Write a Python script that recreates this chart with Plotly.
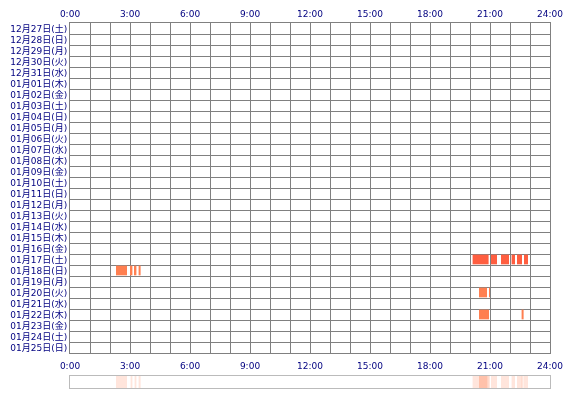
import plotly.graph_objects as go

days = [
    "12月27日(土)", "12月28日(日)", "12月29日(月)", "12月30日(火)", "12月31日(水)",
    "01月01日(木)", "01月02日(金)", "01月03日(土)", "01月04日(日)", "01月05日(月)",
    "01月06日(火)", "01月07日(水)", "01月08日(木)", "01月09日(金)", "01月10日(土)",
    "01月11日(日)", "01月12日(月)", "01月13日(火)", "01月14日(水)", "01月15日(木)",
    "01月16日(金)", "01月17日(土)", "01月18日(日)", "01月19日(月)", "01月20日(火)",
    "01月21日(水)", "01月22日(木)", "01月23日(金)", "01月24日(土)", "01月25日(日)",
]

# active periods (hours of the day)
seg_day = [
    "01月17日(土)", "01月17日(土)", "01月17日(土)", "01月17日(土)", "01月17日(土)", "01月17日(土)",
    "01月18日(日)", "01月18日(日)", "01月18日(日)", "01月18日(日)",
    "01月20日(火)", "01月20日(火)",
    "01月22日(木)", "01月22日(木)",
]
seg_start = [20.13, 21.05, 21.55, 22.08, 22.35, 22.7,
             2.3, 3.03, 3.23, 3.43,
             20.45, 20.95,
             20.45, 22.58]
seg_end = [20.93, 21.35, 21.95, 22.25, 22.6, 22.9,
           2.85, 3.12, 3.32, 3.53,
           20.85, 21.0,
           20.95, 22.68]

hour_vals = [0, 3, 6, 9, 12, 15, 18, 21, 24]
hour_text = ["0:00", "3:00", "6:00", "9:00", "12:00", "15:00", "18:00", "21:00", "24:00"]

day_color = {"01月17日(土)": "#FF5E40"}
durations = [e - s for s, e in zip(seg_start, seg_end)]
colors = [day_color.get(d, "#FF7F50") for d in seg_day]

fig = go.Figure()

fig.add_bar(
    y=seg_day, x=durations, base=seg_start, orientation="h",
    width=0.88, marker=dict(color=colors, line_width=0),
    xaxis="x", yaxis="y", showlegend=False,
)

# invisible trace so the bottom hour axis gets drawn
fig.add_scatter(
    x=[0, 24], y=[days[0], days[-1]], mode="markers", opacity=0,
    xaxis="x3", yaxis="y", showlegend=False, hoverinfo="skip",
)

# summary strip at the bottom
fig.add_bar(
    y=[0] * len(seg_start), x=durations, base=seg_start, orientation="h",
    width=1, marker=dict(color="rgba(255,127,80,0.2)", line_width=0),
    xaxis="x2", yaxis="y2", showlegend=False,
)

navy = "#000080"
grid = "#808080"
tickfont = dict(family="DejaVu Sans, Noto Sans CJK JP", size=9, color=navy)

fig.update_layout(
    width=570, height=400,
    margin=dict(l=70, r=20, t=23, b=12),
    paper_bgcolor="white", plot_bgcolor="white",
    barmode="overlay",
    xaxis=dict(
        domain=[0, 1], anchor="y", side="top", range=[0, 24],
        tickvals=hour_vals, ticktext=hour_text, tickfont=tickfont,
        ticks="outside", ticklen=1, tickcolor="rgba(0,0,0,0)",
        showgrid=True, gridcolor=grid, gridwidth=1,
        minor=dict(dtick=1, tick0=0, showgrid=True, gridcolor=grid, gridwidth=1),
        showline=True, mirror=True, linecolor=grid, linewidth=1,
        zeroline=False, automargin=False,
    ),
    xaxis3=dict(
        overlaying="x", anchor="y", side="bottom", range=[0, 24],
        tickvals=hour_vals, ticktext=hour_text, tickfont=tickfont,
        ticks="outside", ticklen=4, tickcolor="rgba(0,0,0,0)",
        showgrid=False, zeroline=False, automargin=False,
    ),
    yaxis=dict(
        domain=[35 / 365, 1], anchor="x", type="category",
        categoryorder="array", categoryarray=days, range=[29.5, -0.5],
        tickmode="array", tickvals=days, ticktext=days,
        tickfont=tickfont, tickson="boundaries",
        ticks="outside", ticklen=2, tickcolor="rgba(0,0,0,0)",
        showgrid=True, gridcolor=grid, gridwidth=1,
        showline=True, mirror=True, linecolor=grid, linewidth=1,
        zeroline=False, automargin=False,
    ),
    xaxis2=dict(
        domain=[0, 1], anchor="y2", range=[0, 24],
        showticklabels=False, showgrid=False, zeroline=False,
        showline=True, mirror=True, linecolor="#BBBBBB", linewidth=1,
        automargin=False,
    ),
    yaxis2=dict(
        domain=[0, 12 / 365], anchor="x2", range=[-0.5, 0.5],
        showticklabels=False, showgrid=False, zeroline=False,
        showline=True, mirror=True, linecolor="#BBBBBB", linewidth=1,
        automargin=False,
    ),
)

# drop the default page margin so the figure sits at the window's corner
fig.write_html(
    "out.html",
    config={"displayModeBar": False},
    post_script="document.body.style.margin = '0';",
)
